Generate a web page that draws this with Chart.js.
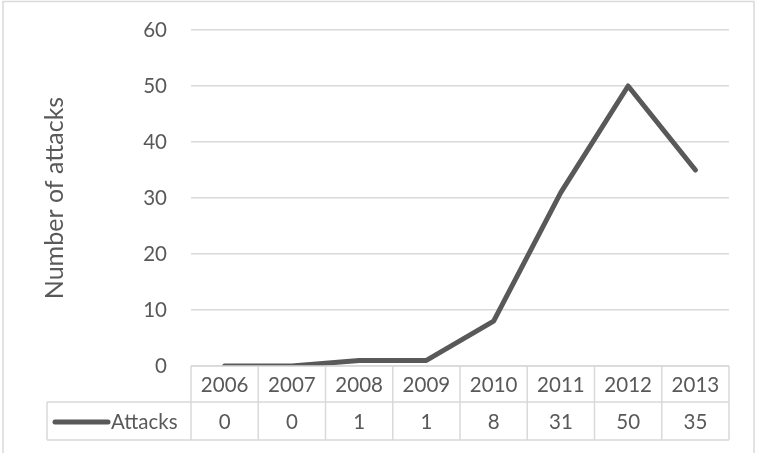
<!DOCTYPE html>
<html>
<head>
<meta charset="utf-8">
<script src="https://cdn.jsdelivr.net/npm/chart.js@4/dist/chart.umd.min.js"></script>
<style>
  html, body { margin: 0; padding: 0; background: #fff; }
  #wrap { width: 758px; height: 453px; }
</style>
</head>
<body>
<div id="wrap"><canvas id="graphCanvas"></canvas></div>
<script>
var years = ['2006', '2007', '2008', '2009', '2010', '2011', '2012', '2013'];
var attacks = [0, 0, 1, 1, 8, 31, 50, 35];
var seriesName = 'Attacks';
var yTicks = [0, 10, 20, 30, 40, 50, 60];

var gray = '#595959';
var lightGray = '#d9d9d9';
var fontName = 'Lato, "Open Sans", sans-serif';
var fontSize = 20.5;

// data table under the plot, Excel style
var tablePlugin = {
    id: 'dataTable',
    afterDraw: function (chart) {
        var ctx = chart.ctx;
        var area = chart.chartArea;
        var x = chart.scales.x;
        var colW = (area.right - area.left) / years.length;
        var top = area.bottom, mid = area.bottom + 36, bottom = area.bottom + 74;
        var legendLeft = 47;

        ctx.save();
        ctx.strokeStyle = lightGray;
        ctx.lineWidth = 1.5;
        ctx.beginPath();
        // horizontal lines
        ctx.moveTo(area.left, top); ctx.lineTo(area.right, top);
        ctx.moveTo(legendLeft, mid); ctx.lineTo(area.right, mid);
        ctx.moveTo(legendLeft, bottom); ctx.lineTo(area.right, bottom);
        // vertical lines
        for (var i = 0; i <= years.length; i++) {
            var px = area.left + i * colW;
            ctx.moveTo(px, top); ctx.lineTo(px, bottom);
        }
        ctx.moveTo(legendLeft, mid); ctx.lineTo(legendLeft, bottom);
        ctx.stroke();

        ctx.fillStyle = gray;
        ctx.font = fontSize + 'px ' + fontName;
        ctx.textAlign = 'center';
        ctx.textBaseline = 'middle';
        for (var j = 0; j < years.length; j++) {
            var cx = x.getPixelForValue(j);
            ctx.fillText(years[j], cx, (top + mid) / 2 + 1);
            ctx.fillText(String(attacks[j]), cx, (mid + bottom) / 2 + 1);
        }

        // legend key
        ctx.strokeStyle = gray;
        ctx.lineWidth = 5;
        ctx.lineCap = 'round';
        ctx.beginPath();
        ctx.moveTo(55, (mid + bottom) / 2 + 1);
        ctx.lineTo(108, (mid + bottom) / 2 + 1);
        ctx.stroke();
        ctx.textAlign = 'left';
        ctx.fillText(seriesName, 111, (mid + bottom) / 2 + 1);

        // outer frame
        ctx.strokeStyle = lightGray;
        ctx.lineWidth = 1.5;
        ctx.strokeRect(3, 1.5, 751, 470);
        ctx.restore();
    }
};

var chartdata = {
    labels: years,
    datasets: [
        {
            label: seriesName,
            data: attacks,
            borderColor: gray,
            backgroundColor: gray,
            borderWidth: 5,
            borderCapStyle: 'round',
            borderJoinStyle: 'round',
            pointRadius: 0,
            tension: 0,
            fill: false
        }
    ]
};

var graphTarget = document.getElementById('graphCanvas');

var lineGraph = new Chart(graphTarget, {
    type: 'line',
    data: chartdata,
    plugins: [tablePlugin],
    options: {
        responsive: true,
        maintainAspectRatio: false,
        animation: false,
        layout: { padding: { left: 36, right: 29, top: 30, bottom: 87 } },
        plugins: {
            legend: { display: false },
            tooltip: { enabled: false }
        },
        scales: {
            x: {
                type: 'category',
                offset: true,
                display: false
            },
            y: {
                min: 0,
                max: 60,
                afterBuildTicks: function (scale) {
                    scale.ticks = yTicks.map(function (v) { return { value: v }; });
                },
                afterFit: function (scale) {
                    scale.width = 155;
                    scale.paddingTop = 0;
                    scale.paddingBottom = 0;
                },
                border: { display: false },
                grid: { color: lightGray, lineWidth: 1.5, drawTicks: false },
                ticks: {
                    color: gray,
                    padding: 24,
                    font: { family: fontName, size: fontSize }
                },
                title: {
                    display: true,
                    text: 'Number of attacks',
                    color: gray,
                    padding: { top: 4, bottom: 0 },
                    font: { family: fontName, size: 25 }
                }
            }
        }
    }
});
</script>
</body>
</html>
